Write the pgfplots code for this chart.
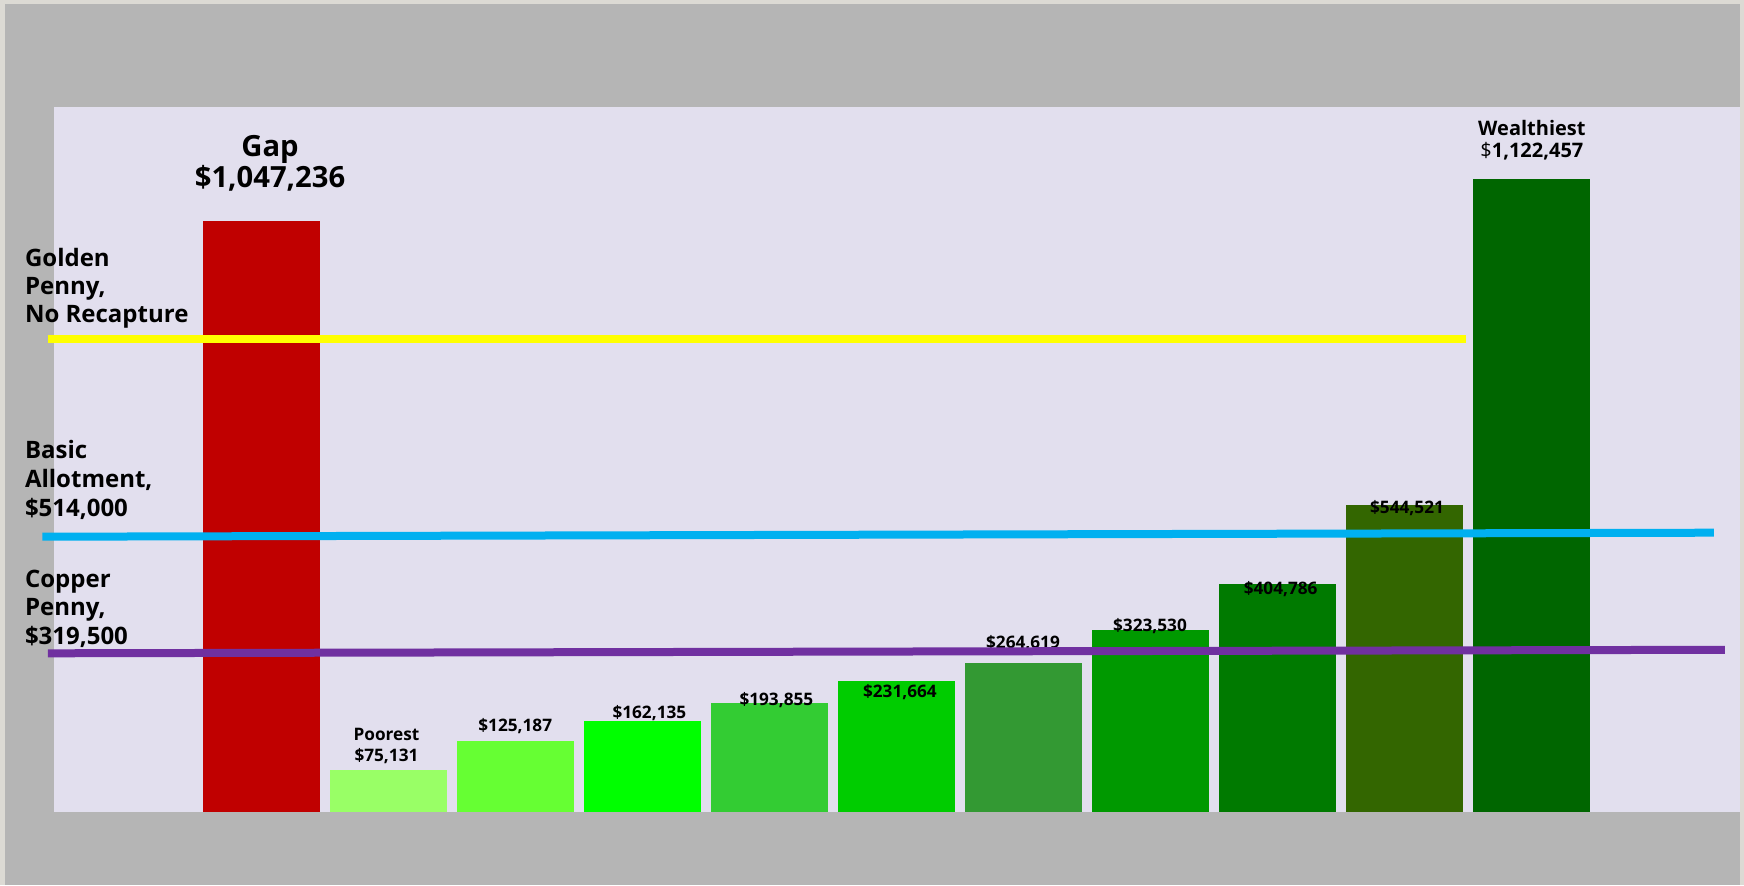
\documentclass[border=0pt]{standalone}
\usepackage{fontspec}
\setmainfont{Open Sans}
\usepackage{pgfplots}
\pgfplotsset{compat=1.18}
\definecolor{outerc}{HTML}{DCDAD4}
\definecolor{grayc}{HTML}{B5B5B5}
\definecolor{lav}{HTML}{E2DFEE}
\definecolor{cgap}{HTML}{C00000}
\definecolor{c1}{HTML}{99FF66}
\definecolor{c2}{HTML}{66FF33}
\definecolor{c3}{HTML}{00FF00}
\definecolor{c4}{HTML}{33CC33}
\definecolor{c5}{HTML}{00CC00}
\definecolor{c6}{HTML}{339933}
\definecolor{c7}{HTML}{009900}
\definecolor{c8}{HTML}{007A00}
\definecolor{c9}{HTML}{336600}
\definecolor{c10}{HTML}{006600}
\definecolor{lyellow}{HTML}{FFFF00}
\definecolor{lblue}{HTML}{00B0F0}
\definecolor{lpurple}{HTML}{7030A0}
\tikzset{lab/.style={inner sep=0pt, outer sep=0pt, text=black}}
\begin{document}
\begin{tikzpicture}
\path[use as bounding box] (0pt,0pt) rectangle (872pt,442.5pt);
\fill[outerc] (0pt,0pt) rectangle (872pt,442.5pt);
\fill[grayc] (2.5pt,0pt) rectangle (870pt,440.5pt);
\fill[lav] (27pt,36.5pt) rectangle (870pt,389pt);
\begin{axis}[at={(27pt,36.5pt)}, anchor=south west, scale only axis,
  width=843pt, height=352.5pt,
  xmin=-1.637, xmax=11.639, ymin=0, ymax=1250000,
  hide axis, clip=false]
\pgfplotsset{bb/.style={ybar, bar width=0.92, bar shift=0pt, draw=none}}
\addplot[bb, fill=cgap] coordinates {(0,1047236)};
\addplot[bb, fill=c1] coordinates {(1,75131)};
\addplot[bb, fill=c2] coordinates {(2,125187)};
\addplot[bb, fill=c3] coordinates {(3,162135)};
\addplot[bb, fill=c4] coordinates {(4,193855)};
\addplot[bb, fill=c5] coordinates {(5,231664)};
\addplot[bb, fill=c6] coordinates {(6,264619)};
\addplot[bb, fill=c7] coordinates {(7,323530)};
\addplot[bb, fill=c8] coordinates {(8,404786)};
\addplot[bb, fill=c9] coordinates {(9,544521)};
\addplot[bb, fill=c10] coordinates {(10,1122457)};
% bar labels
\node[lab, anchor=base, font=\fontsize{14.6}{16}\selectfont\bfseries] at (axis cs:0.064,1161350) {Gap};
\node[lab, anchor=base, font=\fontsize{14.6}{16}\selectfont\bfseries] at (axis cs:0.064,1106380) {\$1,047,236};
\node[lab, anchor=base, font=\fontsize{8.6}{10}\selectfont\bfseries] at (axis cs:0.981,127660) {Poorest};
\node[lab, anchor=base, font=\fontsize{8.6}{10}\selectfont\bfseries] at (axis cs:0.981,90430) {\$75,131};
\node[lab, anchor=base, font=\fontsize{8.6}{10}\selectfont\bfseries] at (axis cs:1.995,143620) {\$125,187};
\node[lab, anchor=base, font=\fontsize{8.6}{10}\selectfont\bfseries] at (axis cs:3.051,166670) {\$162,135};
\node[lab, anchor=base, font=\fontsize{8.6}{10}\selectfont\bfseries] at (axis cs:4.051,189720) {\$193,855};
\node[lab, anchor=base, font=\fontsize{8.6}{10}\selectfont\bfseries] at (axis cs:5.024,203900) {\$231,664};
\node[lab, anchor=base, font=\fontsize{8.6}{10}\selectfont\bfseries] at (axis cs:5.993,290780) {\$264,619};
\node[lab, anchor=base, font=\fontsize{8.6}{10}\selectfont\bfseries] at (axis cs:6.993,320920) {\$323,530};
\node[lab, anchor=base, font=\fontsize{8.6}{10}\selectfont\bfseries] at (axis cs:8.022,386530) {\$404,786};
\node[lab, anchor=base, font=\fontsize{8.6}{10}\selectfont\bfseries] at (axis cs:9.017,530140) {\$544,521};
\node[lab, anchor=base, font=\fontsize{10}{12}\selectfont\bfseries] at (axis cs:10.0,1198580) {Wealthiest};
\node[lab, anchor=base, font=\fontsize{10}{12}\selectfont\bfseries] at (axis cs:10.0,1159570) {{\mdseries\$}1,122,457};
% left labels
\node[lab, anchor=base west, font=\fontsize{12}{14}\selectfont\bfseries] at (axis cs:-1.865,966310) {Golden};
\node[lab, anchor=base west, font=\fontsize{12}{14}\selectfont\bfseries] at (axis cs:-1.865,916670) {Penny,};
\node[lab, anchor=base west, font=\fontsize{12}{14}\selectfont\bfseries] at (axis cs:-1.865,867020) {No Recapture};
\node[lab, anchor=base west, font=\fontsize{12}{14}\selectfont\bfseries] at (axis cs:-1.865,625890) {Basic};
\node[lab, anchor=base west, font=\fontsize{12}{14}\selectfont\bfseries] at (axis cs:-1.865,576240) {Allotment,};
\node[lab, anchor=base west, font=\fontsize{12}{14}\selectfont\bfseries] at (axis cs:-1.865,524820) {\$514,000};
\node[lab, anchor=base west, font=\fontsize{12}{14}\selectfont\bfseries] at (axis cs:-1.865,398940) {Copper};
\node[lab, anchor=base west, font=\fontsize{12}{14}\selectfont\bfseries] at (axis cs:-1.865,349290) {Penny,};
\node[lab, anchor=base west, font=\fontsize{12}{14}\selectfont\bfseries] at (axis cs:-1.865,297870) {\$319,500};
% reference lines
\addplot[lyellow, line width=3.8pt, mark=none] coordinates {(-1.686,839000) (9.480,839000)};
\addplot[lblue, line width=4pt, mark=none] coordinates {(-1.729,488120) (11.433,495210)};
\addplot[lpurple, line width=4pt, mark=none] coordinates {(-1.686,281380) (11.52,287590)};
\end{axis}
\end{tikzpicture}
\end{document}
